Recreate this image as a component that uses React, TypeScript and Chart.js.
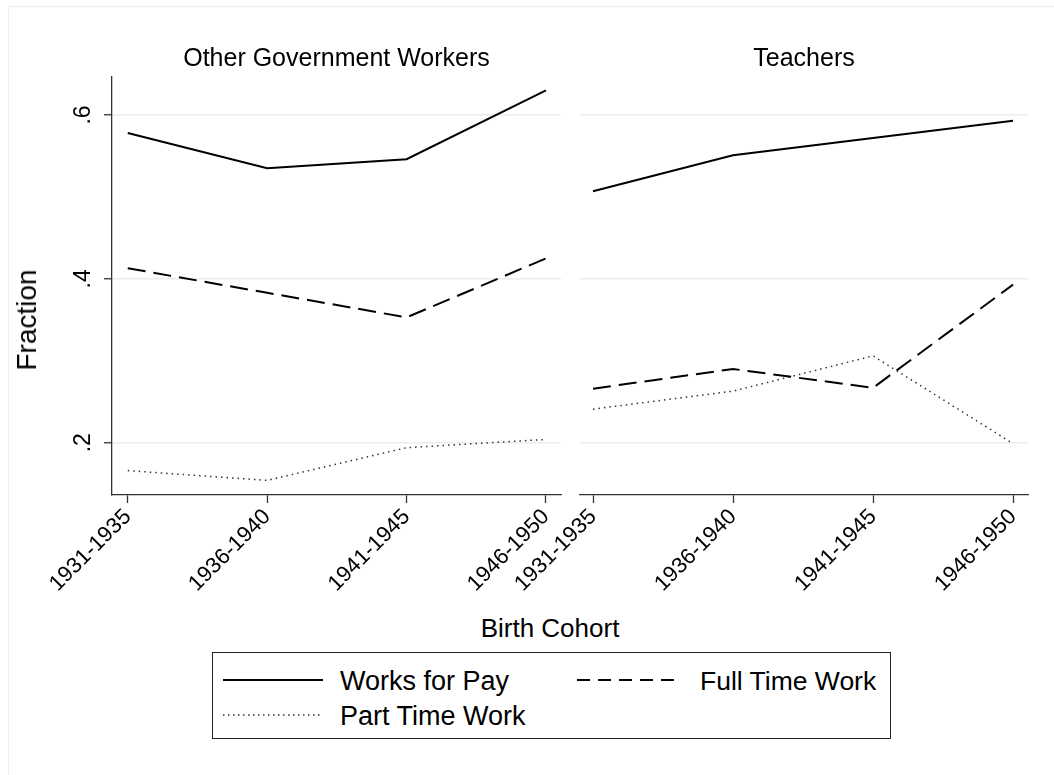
import React, { useEffect, useRef } from 'react';
import { Chart, registerables } from 'chart.js';

Chart.register(...registerables);

const cohorts = ['1931-1935', '1936-1940', '1941-1945', '1946-1950'];
const yTicks = [0.2, 0.4, 0.6];
const yTickLabels = ['.2', '.4', '.6'];

const panelTitles = ['Other Government Workers', 'Teachers'];
const seriesNames = ['Works for Pay', 'Full Time Work', 'Part Time Work'];

const govWorksForPay = [0.578, 0.535, 0.546, 0.630];
const govFullTime = [0.413, 0.383, 0.353, 0.425];
const govPartTime = [0.166, 0.154, 0.194, 0.204];

const teachWorksForPay = [0.507, 0.551, 0.572, 0.593];
const teachFullTime = [0.266, 0.290, 0.267, 0.393];
const teachPartTime = [0.241, 0.263, 0.306, 0.199];

const FONT = '"Liberation Sans", Arial, Helvetica, sans-serif';
const AXIS = '#333333';
const GRID = '#e6eef1';

const toXY = (arr: number[]) => arr.map((v, i) => ({ x: i + 1, y: v }));

const yLabelPlugin = {
  id: 'yLabelsRotated',
  afterDraw(chart: any) {
    const s = chart.scales.y;
    const ctx = chart.ctx;
    ctx.save();
    ctx.font = `23px ${FONT}`;
    ctx.fillStyle = '#000';
    ctx.textAlign = 'center';
    ctx.textBaseline = 'middle';
    yTicks.forEach((v, i) => {
      const y = s.getPixelForValue(v);
      ctx.save();
      ctx.translate(84, y);
      ctx.rotate(-Math.PI / 2);
      ctx.fillText(yTickLabels[i], 0, 0);
      ctx.restore();
    });
    ctx.restore();
  },
};

function makeConfig(left: boolean, wfp: number[], ft: number[], pt: number[]): any {
  return {
    type: 'line',
    data: {
      datasets: [
        { label: seriesNames[0], data: toXY(wfp), borderColor: '#000', borderWidth: 2, pointRadius: 0, fill: false, tension: 0 },
        { label: seriesNames[1], data: toXY(ft), borderColor: '#000', borderWidth: 2, borderDash: [18, 8], pointRadius: 0, fill: false, tension: 0 },
        { label: seriesNames[2], data: toXY(pt), borderColor: '#333', borderWidth: 1.5, borderDash: [1.5, 4], pointRadius: 0, fill: false, tension: 0 },
      ],
    },
    options: {
      animation: false,
      responsive: false,
      events: [],
      layout: { padding: { top: 77, left: 0, right: left ? 9 : 26, bottom: 0 } },
      plugins: { legend: { display: false }, tooltip: { enabled: false }, title: { display: false } },
      scales: {
        x: {
          type: 'linear',
          min: left ? 0.887 : 0.907,
          max: left ? 4.108 : 4.107,
          afterBuildTicks: (s: any) => {
            s.ticks = cohorts.map((_, i) => ({ value: i + 1 }));
          },
          afterFit: (s: any) => {
            s.height = 115;
          },
          ticks: {
            autoSkip: false,
            minRotation: 45,
            maxRotation: 45,
            padding: 1,
            color: '#000',
            font: { size: 22, family: FONT },
            callback: (v: any) => cohorts[Math.round(Number(v)) - 1] ?? '',
          },
          grid: { drawOnChartArea: false, drawTicks: true, tickLength: 8, tickColor: AXIS, tickWidth: 1.3 },
          border: { display: true, color: AXIS, width: 1.3 },
        },
        y: {
          type: 'linear',
          min: 0.1362,
          max: 0.6464,
          afterBuildTicks: (s: any) => {
            s.ticks = yTicks.map((v) => ({ value: v }));
          },
          afterFit: (s: any) => {
            s.width = left ? 112 : 110;
          },
          ticks: { display: false },
          grid: { color: GRID, lineWidth: 1.5, drawTicks: left, tickLength: 8, tickColor: AXIS, tickWidth: 1.3 },
          border: { display: left, color: AXIS, width: 1.3 },
        },
      },
    },
    plugins: left ? [yLabelPlugin] : [],
  };
}

function Panel(props: { left: boolean; x: number; w: number; h: number; wfp: number[]; ft: number[]; pt: number[] }) {
  const ref = useRef<HTMLCanvasElement | null>(null);
  useEffect(() => {
    if (!ref.current) return;
    const chart = new Chart(ref.current, makeConfig(props.left, props.wfp, props.ft, props.pt));
    return () => chart.destroy();
  }, []);
  return (
    <canvas
      ref={ref}
      width={props.w}
      height={props.h}
      style={{ position: 'absolute', left: props.x, top: 0, width: props.w, height: props.h }}
    />
  );
}

function LegendSample(props: { dash?: string; width: number; color: string }) {
  return (
    <svg width={100} height={6} style={{ display: 'block' }}>
      <line x1={0} y1={3} x2={100} y2={3} stroke={props.color} strokeWidth={props.width} strokeDasharray={props.dash} />
    </svg>
  );
}

export default function App() {
  const text: React.CSSProperties = { position: 'absolute', fontFamily: FONT, color: '#000', whiteSpace: 'nowrap' };
  return (
    <div style={{ position: 'fixed', left: 0, top: 0, width: 1054, height: 775, background: '#fff', overflow: 'hidden' }}>
      <div style={{ position: 'absolute', left: 8, top: 6, width: 2000, height: 2000, border: '1px solid #e9eff1' }} />
      <Panel left={true} x={0} w={570} h={610} wfp={govWorksForPay} ft={govFullTime} pt={govPartTime} />
      <Panel left={false} x={470} w={584} h={610} wfp={teachWorksForPay} ft={teachFullTime} pt={teachPartTime} />

      <div style={{ ...text, left: 112, width: 449, top: 42, height: 30, lineHeight: '30px', textAlign: 'center', fontSize: 25 }}>{panelTitles[0]}</div>
      <div style={{ ...text, left: 580, width: 448, top: 42, height: 30, lineHeight: '30px', textAlign: 'center', fontSize: 25 }}>{panelTitles[1]}</div>

      <div style={{ ...text, left: 27, top: 320, fontSize: 28, lineHeight: '30px', transform: 'translate(-50%, -50%) rotate(-90deg)' }}>Fraction</div>
      <div style={{ ...text, left: 550, top: 628, fontSize: 26, lineHeight: '30px', transform: 'translate(-50%, -50%)' }}>Birth Cohort</div>

      <div style={{ position: 'absolute', left: 212, top: 652, width: 677, height: 85, border: '1px solid #222', background: '#fff' }}>
        <div style={{ position: 'absolute', left: 10, top: 24 }}>
          <LegendSample width={2} color="#000" />
        </div>
        <div style={{ ...text, left: 127, top: 12, fontSize: 27, lineHeight: '32px' }}>{seriesNames[0]}</div>
        <div style={{ position: 'absolute', left: 364, top: 24 }}>
          <LegendSample width={2} color="#000" dash="13 8" />
        </div>
        <div style={{ ...text, left: 487, top: 12, fontSize: 26.5, lineHeight: '32px' }}>{seriesNames[1]}</div>
        <div style={{ position: 'absolute', left: 10, top: 59 }}>
          <LegendSample width={1.5} color="#333" dash="1.5 3.5" />
        </div>
        <div style={{ ...text, left: 127, top: 47, fontSize: 27, lineHeight: '32px' }}>{seriesNames[2]}</div>
      </div>
    </div>
  );
}
